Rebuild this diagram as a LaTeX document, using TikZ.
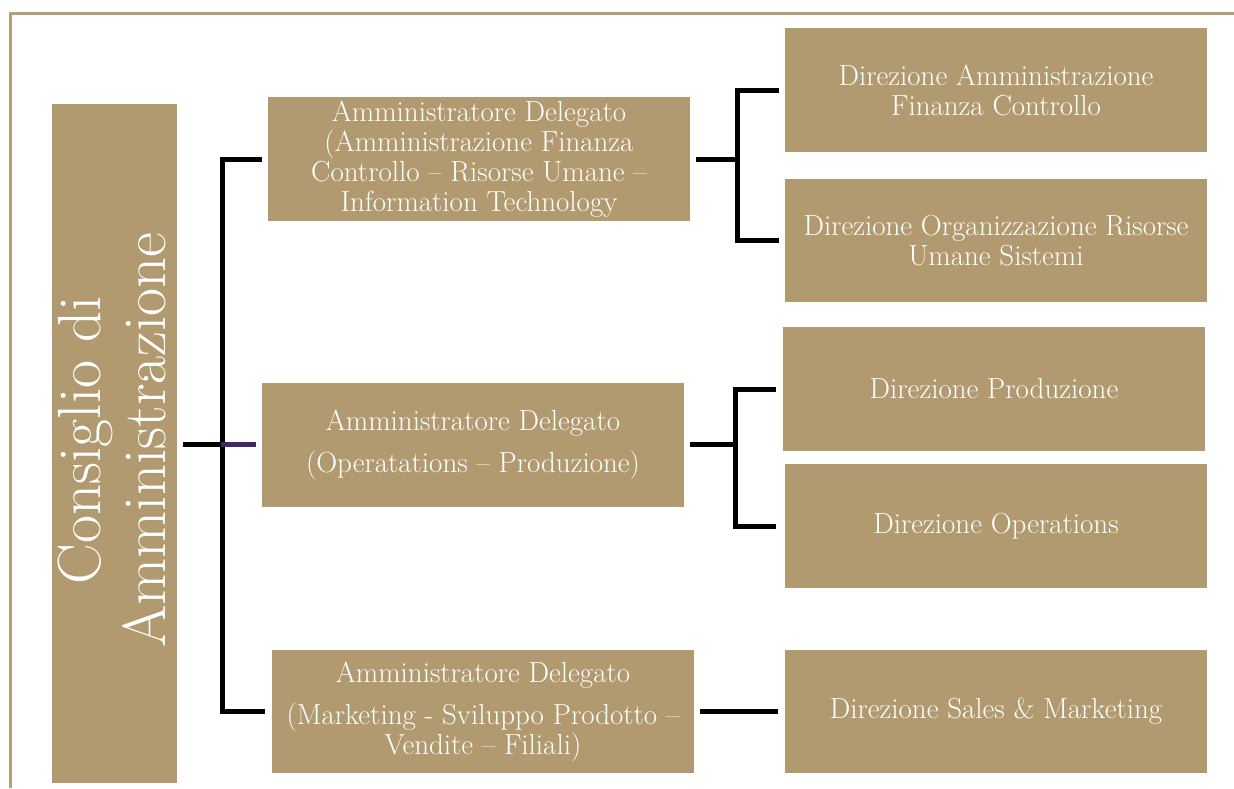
\documentclass[tikz,border=0pt]{standalone}
\definecolor{tan}{RGB}{177,154,111}
\definecolor{frametan}{RGB}{181,160,122}
\definecolor{deeppurple}{RGB}{64,42,96}
\begin{document}
\begin{tikzpicture}[x=1pt,y=-1pt,
  box/.style={fill=tan,draw=none,text=white,align=center,inner sep=0pt,
    minimum width=422pt,minimum height=124pt,font=\fontsize{29}{30}\selectfont},
  conn/.style={draw=black,line width=5pt},
  purpleconn/.style={draw=deeppurple,line width=5pt}]
\useasboundingbox (0,0) rectangle (1234,788);
% frame
\draw[frametan,line width=3pt] (1234,13) -- (10,13) -- (10,788);
% left box
\node[fill=tan,text=white,align=center,inner sep=0pt,minimum width=125pt,minimum height=679pt] (L) at (114.5,443.5) {};
\node[rotate=90,text=white,align=center,font=\fontsize{61}{65}\selectfont] (Ltext) at (112,440) {Consiglio di\\Amministrazione};
% middle boxes
\node[box] (A1) at (479,159) {Amministratore Delegato\\(Amministrazione Finanza\\Controllo \textendash{} Risorse Umane \textendash\\Information Technology};
\node[box] (A2) at (473,445) {Amministratore Delegato\\[12pt](Operatations \textendash{} Produzione)};
\node[box,minimum height=123pt] (A3) at (483,711.5) {Amministratore Delegato\\[12pt](Marketing - Sviluppo Prodotto \textendash\\Vendite \textendash{} Filiali)};
% right boxes
\node[box] (R1) at (996,90) {Direzione Amministrazione\\Finanza Controllo};
\node[box,minimum height=123pt] (R2) at (996,240.5) {Direzione Organizzazione Risorse\\Umane Sistemi};
\node[box] (R3) at (994,389) {Direzione Produzione};
\node[box] (R4) at (996,526) {Direzione Operations};
\node[box,minimum height=123pt] (R5) at (996,711.5) {Direzione Sales \& Marketing};
% junctions
\coordinate (jL) at (222,444);
\coordinate (j1) at (737,159);
\coordinate (j2) at (735,444);
% left connectors
\draw[conn] ([xshift=6pt]L.east |- jL) -- (jL);
\draw[conn] ([xshift=-6pt]A1.west) -| (jL) |- ([xshift=-7pt]A3.west);
\draw[purpleconn] ([xshift=-1pt]jL) -- ([xshift=-6pt]A2.west |- jL);
% A1 connectors
\draw[conn] ([xshift=6pt]A1.east) -- (j1);
\draw[conn] ([xshift=-6pt]R1.west) -| (j1) |- ([xshift=-6pt]R2.west);
% A2 connectors
\draw[conn] ([xshift=6pt]A2.east |- j2) -- (j2);
\draw[conn] ([xshift=-7pt]R3.west) -| (j2) |- ([xshift=-9pt]R4.west);
% A3 connector
\draw[conn] ([xshift=6pt]A3.east) -- ([xshift=-7pt]R5.west);
\end{tikzpicture}
\end{document}
